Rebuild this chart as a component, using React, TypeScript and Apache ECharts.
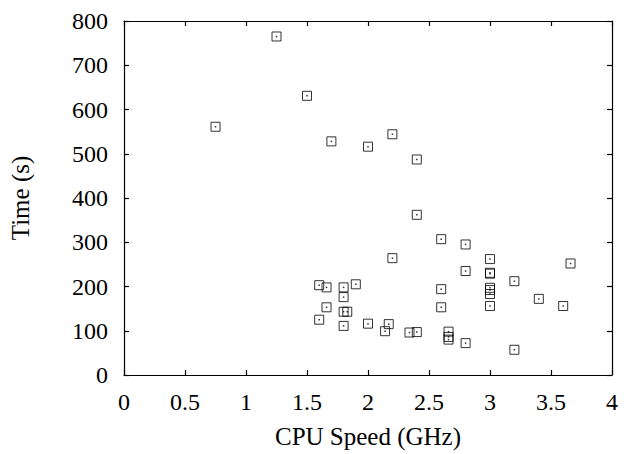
import React, { useEffect, useRef } from "react";
import * as echarts from "echarts";

const cpuSpeed = [
  1.25, 1.5, 0.75, 1.7, 2.0, 2.2, 2.4,
  2.4, 2.6, 2.8, 2.2, 3.0, 3.66, 2.8, 3.0, 3.0, 3.2,
  1.6, 1.66, 1.8, 1.9, 2.6, 3.0, 3.0, 3.0, 1.8, 3.4,
  1.66, 2.6, 3.0, 3.6, 1.8, 1.83, 1.6, 1.8, 2.0, 2.17,
  2.14, 2.34, 2.4, 2.66, 2.66, 2.66, 2.8, 3.2,
];
const timeSec = [
  765, 631, 561, 528, 516, 544, 487,
  362, 307, 295, 264, 262, 252, 235, 231, 229, 212,
  203, 198, 198, 205, 194, 197, 192, 183, 176, 172,
  153, 153, 156, 156, 143, 143, 125, 111, 116, 115,
  99, 96, 97, 98, 86, 80, 72, 57,
];
const xTicks = { min: 0, max: 4, interval: 0.5 };
const yTicks = { min: 0, max: 800, interval: 100 };

const FONT = "Liberation Serif";

export default function App() {
  const ref = useRef<HTMLDivElement>(null);
  useEffect(() => {
    if (!ref.current) return;
    const chart = echarts.init(ref.current, undefined, { renderer: "svg" });
    const data = cpuSpeed.map((x, i) => [x, timeSec[i]]);
    const lineStyle = { color: "#000", width: 1.2 };
    const baseAxis = {
      axisLine: { show: true, onZero: false, lineStyle },
      axisTick: { show: true, inside: true, length: 5, lineStyle },
      splitLine: { show: false },
    };
    const labelStyle = {
      fontFamily: FONT,
      fontSize: 24,
      color: "#000",
      textStyle: { fontFamily: FONT, fontSize: 24, color: "#000" },
    };
    chart.setOption({
      animation: false,
      backgroundColor: "#fff",
      textStyle: { fontFamily: FONT, color: "#000" },
      grid: { left: 124, right: 12, top: 21, bottom: 78 },
      xAxis: [
        {
          ...baseAxis,
          type: "value",
          ...xTicks,
          name: "CPU Speed (GHz)",
          nameLocation: "middle",
          nameGap: 49,
          nameTextStyle: { fontFamily: FONT, fontSize: 25, color: "#000" },
          axisLabel: { ...labelStyle, margin: 15 },
        },
        {
          ...baseAxis,
          type: "value",
          position: "top",
          ...xTicks,
          axisLabel: { show: false },
        },
      ],
      yAxis: [
        {
          ...baseAxis,
          type: "value",
          ...yTicks,
          name: "Time (s)",
          nameLocation: "middle",
          nameGap: 91,
          nameTextStyle: { fontFamily: FONT, fontSize: 25, color: "#000" },
          axisLabel: { ...labelStyle, margin: 16 },
        },
        {
          ...baseAxis,
          type: "value",
          position: "right",
          ...yTicks,
          axisLabel: { show: false },
        },
      ],
      series: [
        {
          type: "scatter",
          data,
          symbol: "rect",
          symbolSize: 9,
          itemStyle: { color: "rgba(0,0,0,0)", borderColor: "#000", borderWidth: 1 },
          emphasis: { disabled: true },
        },
        {
          type: "scatter",
          data,
          symbol: "rect",
          symbolSize: 1.5,
          itemStyle: { color: "#000" },
          emphasis: { disabled: true },
        },
      ],
    });
    return () => chart.dispose();
  }, []);
  return (
    <div
      ref={ref}
      style={{ position: "fixed", left: 0, top: 0, width: 624, height: 454 }}
    />
  );
}
